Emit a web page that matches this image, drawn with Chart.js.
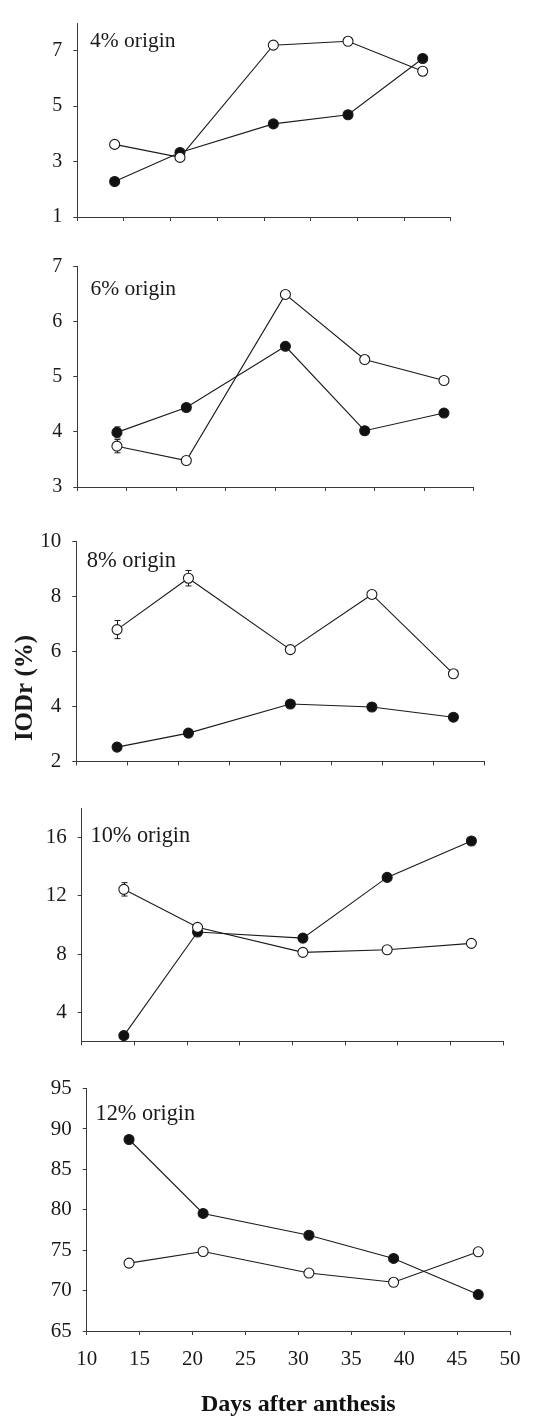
<!DOCTYPE html>
<html><head><meta charset="utf-8">
<script src="https://cdn.jsdelivr.net/npm/chart.js@4/dist/chart.umd.min.js"></script>
<style>
html,body{margin:0;padding:0;background:#fff;}
body{width:553px;height:1419px;position:relative;overflow:hidden;}
canvas{position:absolute;left:0;}
</style></head><body>
<canvas id="c1"></canvas><canvas id="c2"></canvas><canvas id="c3"></canvas><canvas id="c4"></canvas><canvas id="c5"></canvas>
<script>
// ---------- DATA ----------
const days = [14, 21, 31, 39, 47];
const xTickValues = [10, 15, 20, 25, 30, 35, 40, 45, 50];
const panelLabels = ['4% origin', '6% origin', '8% origin', '10% origin', '12% origin'];
const xTitle = 'Days after anthesis';
const yTitle = 'IODr (%)';

const p1Open   = [3.62, 3.15, 7.20, 7.34, 6.26];
const p1Filled = [2.28, 3.33, 4.36, 4.69, 6.72];
const p2Open   = [3.74, 3.48, 6.49, 5.31, 4.93];
const p2Filled = [3.99, 4.44, 5.55, 4.02, 4.34];
const p3Open   = [6.80, 8.67, 6.07, 8.08, 5.19];
const p3Filled = [2.52, 3.03, 4.09, 3.98, 3.61];
const p4Open   = [12.45, 9.84, 8.12, 8.30, 8.74];
const p4Filled = [2.40, 9.52, 9.10, 13.27, 15.77];
const p5Open   = [73.40, 74.84, 72.17, 71.03, 74.80];
const p5Filled = [88.70, 79.55, 76.85, 73.98, 69.51];

const p1OpenErr = [0, 0, 0, 0, 0];      const p1FilledErr = [0, 0, 0, 0, 0];
const p2OpenErr = [0.12, 0, 0, 0, 0];   const p2FilledErr = [0.10, 0, 0, 0, 0];
const p3OpenErr = [0.33, 0.28, 0, 0, 0]; const p3FilledErr = [0, 0, 0, 0, 0];
const p4OpenErr = [0.46, 0, 0, 0, 0];   const p4FilledErr = [0, 0, 0, 0, 0];
const p5OpenErr = [0, 0, 0, 0, 0];      const p5FilledErr = [0, 0, 0, 0, 0];

const p1YTicks = [1, 3, 5, 7];
const p2YTicks = [3, 4, 5, 6, 7];
const p3YTicks = [2, 4, 6, 8, 10];
const p4YTicks = [4, 8, 12, 16];
const p5YTicks = [65, 70, 75, 80, 85, 90, 95];

// ---------- LAYOUT ----------
const FONT = '"Liberation Serif", "Times New Roman", serif';
const INK = '#1a1a1a';
const AXIS = '#3a3a3a';
const Y_W = 60;
const panels = [
  {id:'c1', top:0,    h:240, l:77.3, t:9.3,  r:450.7, b:222.7, xH:10, yMin:1,  yMax:8,  yTicks:p1YTicks, open:p1Open, filled:p1Filled, oErr:p1OpenErr, fErr:p1FilledErr, lab:{x:90,   y:46.7,   s:21.5}, tickS:20},
  {id:'c2', top:240,  h:270, l:77.3, t:266.3,r:473.7, b:493,   xH:10, yMin:3,  yMax:7,  yTicks:p2YTicks, open:p2Open, filled:p2Filled, oErr:p2OpenErr, fErr:p2FilledErr, lab:{x:90.5, y:295,    s:21.5}, tickS:20},
  {id:'c3', top:510,  h:275, l:76.3, t:541.7,r:484,   b:770,   xH:10, yMin:2,  yMax:10, yTicks:p3YTicks, open:p3Open, filled:p3Filled, oErr:p3OpenErr, fErr:p3FilledErr, lab:{x:86.7, y:566.7,  s:22.5}, tickS:21, yTitle:true},
  {id:'c4', top:785,  h:280, l:81.7, t:808.3,r:503,   b:1046.3,xH:10, yMin:2,  yMax:18, yTicks:p4YTicks, open:p4Open, filled:p4Filled, oErr:p4OpenErr, fErr:p4FilledErr, lab:{x:90.5, y:842.3,  s:22.3}, tickS:21},
  {id:'c5', top:1065, h:354, l:86.7, t:1087.3,r:510,  b:1331,  xH:88, yMin:65, yMax:95, yTicks:p5YTicks, open:p5Open, filled:p5Filled, oErr:p5OpenErr, fErr:p5FilledErr, lab:{x:95.5, y:1120,   s:22.3}, tickS:21, xLabels:true}
];

const errorBarPlugin = {
  id: 'errbars',
  beforeDatasetsDraw(chart) {
    const {ctx, scales: {x, y}} = chart;
    chart.data.datasets.forEach(ds => {
      if (!ds.errors) return;
      ctx.save();
      ctx.strokeStyle = INK; ctx.lineWidth = 1;
      ds.data.forEach((pt, i) => {
        const e = ds.errors[i];
        if (!e) return;
        const px = Math.round(x.getPixelForValue(pt.x)) + 0.5;
        const top = y.getPixelForValue(pt.y + e), bot = y.getPixelForValue(pt.y - e);
        ctx.beginPath();
        ctx.moveTo(px, top); ctx.lineTo(px, bot);
        ctx.moveTo(px - 3, top); ctx.lineTo(px + 3, top);
        ctx.moveTo(px - 3, bot); ctx.lineTo(px + 3, bot);
        ctx.stroke();
      });
      ctx.restore();
    });
  }
};

const labelPlugin = {
  id: 'panelLabel',
  afterDraw(chart) {
    const p = chart.options.plugins.panelLabel;
    const ctx = chart.ctx;
    ctx.save();
    ctx.fillStyle = INK;
    ctx.textBaseline = 'alphabetic';
    ctx.textAlign = 'left';
    ctx.font = p.size + 'px ' + FONT;
    ctx.fillText(p.text, p.x, p.y);
    if (p.yTitle) {
      ctx.translate(p.yTitle.x, p.yTitle.y);
      ctx.rotate(-Math.PI / 2);
      ctx.textAlign = 'center';
      ctx.font = 'bold 25px ' + FONT;
      ctx.fillText(yTitle, 0, 0);
    }
    ctx.restore();
  }
};

panels.forEach((p, idx) => {
  const cv = document.getElementById(p.id);
  cv.width = 553; cv.height = p.h;
  cv.style.top = p.top + 'px';
  cv.style.width = '553px'; cv.style.height = p.h + 'px';
  const relT = p.t - p.top, relB = p.b - p.top;
  const mk = (vals) => days.map((d, i) => ({x: d, y: vals[i]}));
  const common = {borderColor: INK, borderWidth: 1.1, pointRadius: 5, pointBorderWidth: 1.1,
                  pointBorderColor: INK, tension: 0, clip: false, pointHoverRadius: 5};
  new Chart(cv, {
    type: 'line',
    data: {
      datasets: [
        Object.assign({label: 'open', data: mk(p.open), errors: p.oErr, pointBackgroundColor: '#ffffff', backgroundColor: '#ffffff'}, common),
        Object.assign({label: 'filled', data: mk(p.filled), errors: p.fErr, pointBackgroundColor: '#111111', backgroundColor: '#111111'}, common)
      ]
    },
    options: {
      responsive: false, animation: false, maintainAspectRatio: false,
      events: [],
      layout: {padding: {left: p.l - Y_W, top: relT, right: 553 - p.r, bottom: p.h - relB - p.xH}},
      plugins: {
        legend: {display: false}, tooltip: {enabled: false},
        panelLabel: {text: panelLabels[idx], x: p.lab.x, y: p.lab.y - p.top, size: p.lab.s,
                     yTitle: p.yTitle ? {x: 32, y: 688 - p.top} : null}
      },
      scales: {
        x: {
          type: 'linear', position: 'bottom', min: 10, max: 50,
          afterFit: (s) => { s.height = p.xH; },
          afterBuildTicks: (s) => { s.ticks = xTickValues.map(v => ({value: v})); },
          grid: {display: true, drawOnChartArea: false, drawTicks: true, tickLength: 4, color: AXIS, lineWidth: 1},
          border: {display: true, color: AXIS, width: 1},
          ticks: {display: !!p.xLabels, autoSkip: false, maxRotation: 0, padding: 12, color: INK,
                  font: {family: FONT, size: 21}},
          title: {display: !!p.xLabels, text: xTitle, color: '#111', padding: {top: 0, bottom: 0},
                  font: {family: FONT, size: 24, weight: 'bold'}}
        },
        y: {
          type: 'linear', position: 'left', min: p.yMin, max: p.yMax,
          afterFit: (s) => { s.width = Y_W; },
          afterBuildTicks: (s) => { s.ticks = p.yTicks.map(v => ({value: v})); },
          grid: {display: true, drawOnChartArea: false, drawTicks: true, tickLength: 4, color: AXIS, lineWidth: 1},
          border: {display: true, color: AXIS, width: 1},
          ticks: {autoSkip: false, padding: 11, color: INK, font: {family: FONT, size: p.tickS}}
        }
      }
    },
    plugins: [errorBarPlugin, labelPlugin]
  });
});
</script>
</body></html>
